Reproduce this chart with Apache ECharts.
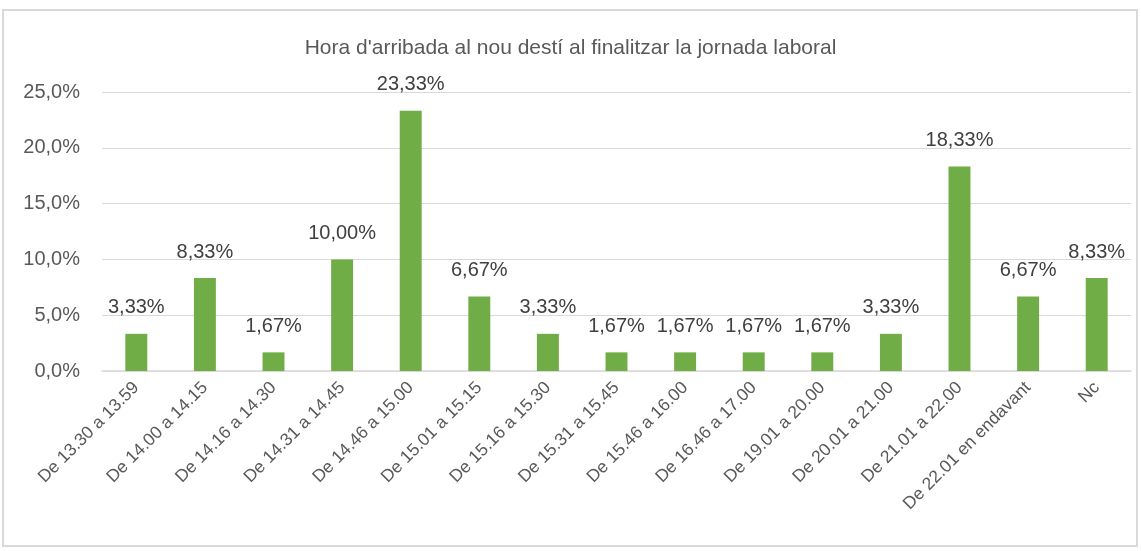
<!DOCTYPE html>
<html>
<head>
<meta charset="utf-8">
<script src="https://cdn.jsdelivr.net/npm/echarts@6/dist/echarts.min.js"></script>
<style>
  html, body { margin: 0; padding: 0; background: #fff; }
  #main { width: 1141px; height: 551px; }
</style>
</head>
<body>
<div id="main"></div>
<script>
const titleText = "Hora d'arribada al nou destí al finalitzar la jornada laboral";
const categories = [
  'De 13.30 a 13.59', 'De 14.00 a 14.15', 'De 14.16 a 14.30', 'De 14.31 a 14.45',
  'De 14.46 a 15.00', 'De 15.01 a 15.15', 'De 15.16 a 15.30', 'De 15.31 a 15.45',
  'De 15.46 a 16.00', 'De 16.46 a 17.00', 'De 19.01 a 20.00', 'De 20.01 a 21.00',
  'De 21.01 a 22.00', 'De 22.01 en endavant', 'Nc'
];
const values = [3.33, 8.33, 1.67, 10.00, 23.33, 6.67, 3.33, 1.67, 1.67, 1.67, 1.67, 3.33, 18.33, 6.67, 8.33];
const yTicks = { min: 0, max: 25, interval: 5 };

const font = 'Liberation Sans, Arial, sans-serif';
const chart = echarts.init(document.getElementById('main'), null, { renderer: 'canvas' });

chart.setOption({
  animation: false,
  graphic: [{
    type: 'rect',
    shape: { x: 3, y: 10, width: 1134, height: 536 },
    style: { fill: 'none', stroke: '#d9d9d9', lineWidth: 2 },
    silent: true
  }],
  title: {
    text: titleText,
    left: 'center',
    top: 33,
    textStyle: { color: '#595959', fontSize: 21, fontWeight: 'normal', fontFamily: font }
  },
  grid: { left: 102, right: 10, top: 92, bottom: 180, containLabel: false },
  xAxis: {
    type: 'category',
    data: categories,
    axisLine: { lineStyle: { color: '#d9d9d9', width: 1.5 } },
    axisTick: { show: false },
    axisLabel: {
      interval: 0,
      rotate: 45,
      margin: 14,
      color: '#595959',
      fontSize: 17.5,
      fontFamily: font
    }
  },
  yAxis: {
    type: 'value',
    min: yTicks.min,
    max: yTicks.max,
    interval: yTicks.interval,
    axisLine: { show: false },
    axisTick: { show: false },
    splitLine: { lineStyle: { color: '#d9d9d9', width: 1 } },
    axisLabel: {
      margin: 22,
      color: '#595959',
      fontSize: 20,
      fontFamily: font,
      formatter: v => v.toFixed(1).replace('.', ',') + '%'
    }
  },
  series: [{
    type: 'bar',
    data: values,
    barWidth: '32%',
    itemStyle: { color: '#70ad47' },
    label: {
      show: true,
      position: 'top',
      distance: 16,
      color: '#404040',
      fontSize: 20,
      fontFamily: font,
      formatter: p => p.value.toFixed(2).replace('.', ',') + '%'
    }
  }]
});
</script>
</body>
</html>
